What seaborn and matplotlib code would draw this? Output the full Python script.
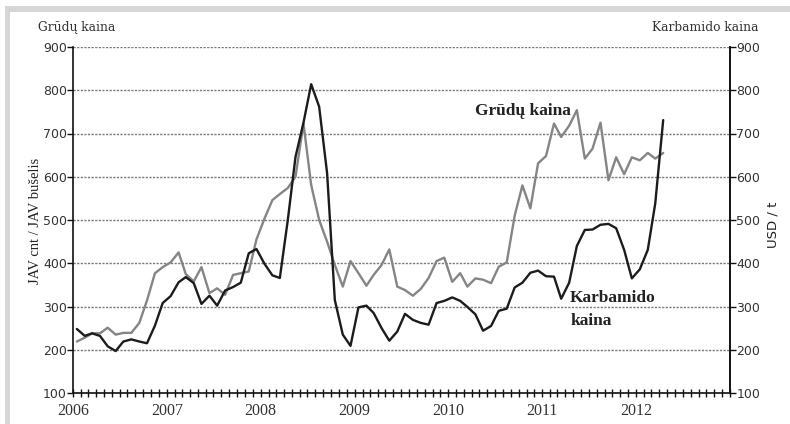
import matplotlib
matplotlib.use("Agg")
import matplotlib.pyplot as plt
from matplotlib.patches import Rectangle
from matplotlib.ticker import FixedLocator
import matplotlib.dates as mdates
import numpy as np
import pandas as pd
import seaborn as sns

# ---- data (monthly, Jan 2006 - Apr 2012) ----
start_month = "2006-01"
grain = [219, 228, 238, 238, 251, 235, 239, 239, 262, 314, 377, 391,
         402, 425, 375, 358, 391, 331, 342, 327, 373, 377, 381, 455,
         503, 546, 560, 574, 600, 723, 581, 500, 450, 396, 346, 405,
         377, 348, 373, 396, 432, 346, 338, 325, 341, 366, 405, 413,
         357, 377, 346, 365, 362, 354, 392, 402, 510, 580, 527, 631,
         648, 723, 692, 718, 754, 642, 665, 725, 592, 645, 606, 645,
         638, 655, 642, 655]
urea = [248, 232, 238, 232, 208, 197, 219, 224, 219, 215, 256, 308,
        324, 356, 368, 354, 306, 325, 302, 337, 345, 355, 423, 433,
        399, 372, 366, 500, 646, 725, 814, 762, 608, 315, 235, 209,
        298, 302, 285, 250, 221, 242, 283, 269, 262, 258, 308, 313,
        321, 313, 299, 282, 244, 255, 290, 295, 344, 355, 378, 383,
        370, 369, 318, 355, 440, 477, 478, 489, 491, 481, 431, 365,
        386, 431, 538, 731]
year_labels = ["2006", "2007", "2008", "2009", "2010", "2011", "2012"]
y_ticks = [100, 200, 300, 400, 500, 600, 700, 800, 900]

sns.set_theme(style="white")
plt.rcParams['font.family'] = ['DejaVu Sans']

dates = pd.date_range(start_month + "-01", periods=len(grain), freq="MS") + pd.Timedelta(days=15)
df = pd.DataFrame({"date": dates, "grain": grain, "urea": urea})

W, H = 790, 424
fig = plt.figure(figsize=(W / 100, H / 100), dpi=100)
fig.patch.set_facecolor("white")

# light grey frame (top and left visible)
fig.patches.append(Rectangle((5 / W, 1 - 12 / H), 1.0, 6 / H, transform=fig.transFigure,
                             facecolor="#d6d6d6", edgecolor="none", zorder=0))
fig.patches.append(Rectangle((5 / W, 0), 5 / W, 1 - 6 / H, transform=fig.transFigure,
                             facecolor="#d6d6d6", edgecolor="none", zorder=0))

ax = fig.add_axes([73 / W, 31 / H, 657 / W, 346 / H])
ax.set_facecolor("white")

sns.lineplot(data=df, x="date", y="grain", color="#858585", lw=1.7, ax=ax, zorder=3)
sns.lineplot(data=df, x="date", y="urea", color="#1c1c1c", lw=1.7, ax=ax, zorder=4)

ax.set_xlim(pd.Timestamp("2006-01-01"), pd.Timestamp("2013-01-01"))
ax.set_ylim(100, 900)
ax.set_xlabel("")

# grid
ax.yaxis.set_major_locator(FixedLocator(y_ticks))
ax.yaxis.grid(True, linestyle=(0, (1.6, 1.0)), color="#7a7a7a", lw=1.0)
ax.xaxis.grid(False)
ax.set_axisbelow(True)

for s in ["left", "right", "bottom"]:
    ax.spines[s].set_visible(True)
    ax.spines[s].set_color("#111111")
    ax.spines[s].set_linewidth(1.2)
ax.spines["top"].set_visible(False)

# x ticks
year_pos = [pd.Timestamp(f"{y}-01-01") for y in year_labels]
ax.set_xticks(year_pos)
ax.set_xticklabels(year_labels)
ax.xaxis.set_minor_locator(mdates.MonthLocator())
ax.tick_params(axis="x", which="both", direction="inout", length=6, width=1.0,
               color="#111111", bottom=True, pad=4.5)
for lab in ax.get_xticklabels():
    lab.set_family("Liberation Serif")
    lab.set_fontsize(11.5)
    lab.set_color("#333333")

# left y ticks
ax.set_yticks(y_ticks)
ax.set_yticklabels([str(v) for v in y_ticks])
ax.tick_params(axis="y", which="major", direction="out", length=4, width=1.0,
               color="#111111", left=True, pad=0.5, labelsize=9, labelcolor="#333333")

ax.set_ylabel("JAV cnt / JAV bušelis", family="Liberation Serif", fontsize=10.5, color="#222222")
ax.yaxis.set_label_coords(-0.047, 0.497)

# right axis
ax2 = ax.twinx()
ax2.set_ylim(100, 900)
ax2.set_yticks(y_ticks)
ax2.set_yticklabels([str(v) for v in y_ticks])
ax2.grid(False)
for s in ["top", "left", "bottom"]:
    ax2.spines[s].set_visible(False)
ax2.spines["right"].set_color("#111111")
ax2.spines["right"].set_linewidth(1.2)
ax2.tick_params(axis="y", direction="out", length=4, width=1.0, color="#111111",
                right=True, pad=0.5, labelsize=9, labelcolor="#333333")
ax2.set_ylabel("USD / t", family="DejaVu Sans", fontsize=9.5, color="#222222", rotation=90)
ax2.yaxis.set_label_coords(1.055, 0.486)

# headings
fig.text(38 / W, 1 - 31 / H, "Grūdų kaina", family="DejaVu Serif", fontsize=8.8,
         color="#333333", ha="left", va="baseline")
fig.text(759 / W, 1 - 31 / H, "Karbamido kaina", family="DejaVu Serif", fontsize=8.8,
         color="#333333", ha="right", va="baseline")

# series annotations
ax.text(pd.Timestamp("2010-04-15"), 743, "Grūdų kaina", family="Liberation Serif",
        fontweight="bold", fontsize=12.5, color="#222222", ha="left", va="baseline", zorder=6)
ax.text(pd.Timestamp("2011-04-20"), 311, "Karbamido", family="Liberation Serif",
        fontweight="bold", fontsize=12.5, color="#222222", ha="left", va="baseline", zorder=6)
ax.text(pd.Timestamp("2011-04-20"), 258, "kaina", family="Liberation Serif",
        fontweight="bold", fontsize=12.5, color="#222222", ha="left", va="baseline", zorder=6)

fig.savefig("out.png", dpi=100, facecolor="white")
